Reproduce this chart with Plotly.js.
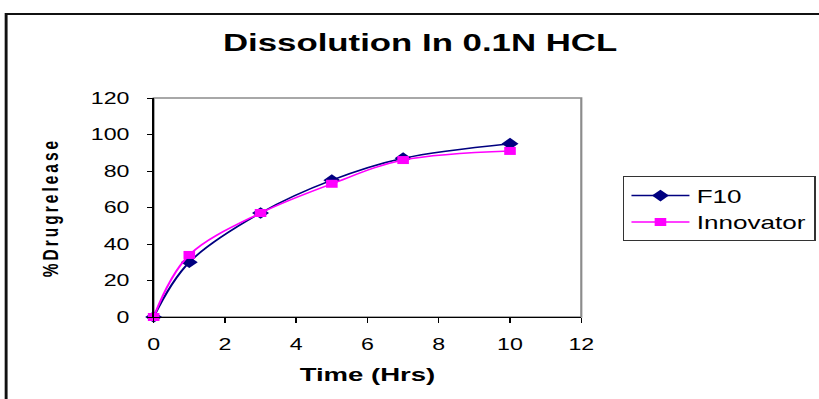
<!DOCTYPE html>
<html>
<head>
<meta charset="utf-8">
<script src="https://cdn.plot.ly/plotly-3.0.1.min.js"></script>
<style>
  html, body { margin: 0; padding: 0; background: #fff; overflow: hidden; }
  #chart { width: 565px; height: 399px; transform: scaleX(1.4496); transform-origin: 0 0; }
  #chart .ytitle { letter-spacing: 3px; }
</style>
</head>
<body>
<div id="chart"></div>
<script>
// Data
const timeHrs = [0, 1, 3, 5, 7, 10];
const f10 = [0, 30, 57, 75, 87, 95];
const innovator = [0, 34, 57, 73, 86, 91];
const seriesNames = ["F10", "Innovator"];
const xTickVals = [0, 2, 4, 6, 8, 10, 12];
const yTickVals = [0, 20, 40, 60, 80, 100, 120];

const FONT = "Arial, 'Liberation Sans', sans-serif";

const traces = [
  {
    x: timeHrs, y: f10, name: seriesNames[0], type: "scatter", mode: "lines+markers",
    line: { color: "#000080", width: 1.5, shape: "spline", smoothing: 1 },
    marker: { symbol: "diamond", size: 9, color: "#000080" },
    cliponaxis: false, legendgroup: "a"
  },
  {
    x: timeHrs, y: innovator, name: seriesNames[1], type: "scatter", mode: "lines+markers",
    line: { color: "#FF00FF", width: 1.5, shape: "spline", smoothing: 1 },
    marker: { symbol: "square", size: 8, color: "#FF00FF" },
    cliponaxis: false, legendgroup: "b"
  }
];

const layout = {
  width: 565, height: 399,
  margin: { l: 106, r: 164, t: 98, b: 82, pad: 0, autoexpand: false },
  paper_bgcolor: "#ffffff", plot_bgcolor: "#ffffff",
  font: { family: FONT, color: "#000000", size: 16 },
  title: {
    text: "<b>Dissolution In 0.1N HCL</b>",
    font: { family: FONT, size: 24, color: "#000000" },
    xref: "paper", x: 0.623, xanchor: "center",
    yref: "container", y: 0.892, yanchor: "middle"
  },
  xaxis: {
    range: [0, 12], tickvals: xTickVals, ticks: "outside", ticklen: 5, tickwidth: 1, tickcolor: "#000",
    showline: true, linecolor: "#000", linewidth: 1, showgrid: false, zeroline: false,
    tickfont: { family: FONT, size: 16 }, ticklabelstandoff: 8,
    title: { text: "<b>Time (Hrs)</b>", font: { family: FONT, size: 19 }, standoff: 15 },
    fixedrange: true
  },
  yaxis: {
    range: [0, 120], tickvals: yTickVals, ticks: "outside", ticklen: 3.5, tickwidth: 1, tickcolor: "#000",
    showline: true, linecolor: "#000", linewidth: 1, showgrid: false, zeroline: false,
    tickfont: { family: FONT, size: 16 }, ticklabelstandoff: 9,
    title: { text: "<b>%Drugrelease</b>", font: { family: FONT, size: 15.5 }, standoff: 18 },
    fixedrange: true
  },
  showlegend: true,
  legend: {
    x: 1.097, xanchor: "left", y: 0.642, yanchor: "top",
    bordercolor: "#333", borderwidth: 1, bgcolor: "#fff",
    font: { family: FONT, size: 18, color: "#000" },
    traceorder: "grouped", tracegroupgap: 0, itemwidth: 40
  },
  shapes: [
    { type: "rect", xref: "paper", yref: "paper", x0: 0, x1: 1, y0: 0, y1: 1,
      line: { color: "#8c8c8c", width: 1.5 }, layer: "below" },
    { type: "rect", xref: "paper", yref: "paper", x0: -0.345, x1: 1.6, y0: -0.45, y1: 1.384,
      line: { color: "#111", width: 2 }, layer: "below" }
  ]
};

Plotly.newPlot("chart", traces, layout, { displayModeBar: false, staticPlot: true });
</script>
</body>
</html>
